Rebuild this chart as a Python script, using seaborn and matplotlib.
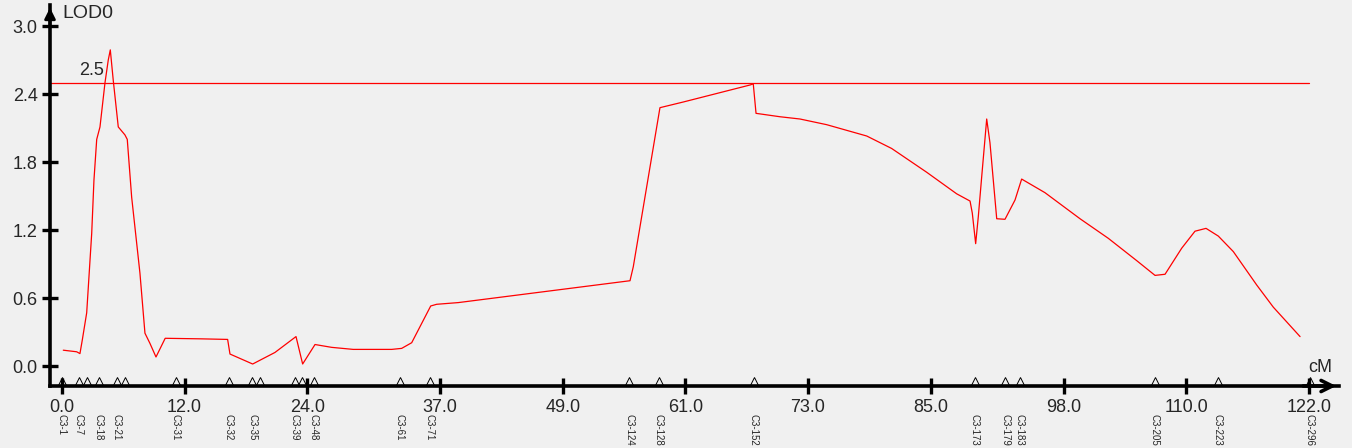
import numpy as np
import pandas as pd
import seaborn as sns
import matplotlib.pyplot as plt
from matplotlib.transforms import blended_transform_factory

# LOD profile (position in cM, LOD score)
pos_cm = [0.13, 1.44, 1.76, 1.99, 2.42, 2.91, 3.13, 3.40, 3.72, 4.21, 4.53, 4.73,
          5.02, 5.51, 6.16, 6.39, 6.82, 7.63, 8.12, 8.61, 9.20, 10.1, 13.67, 16.21,
          16.44, 18.66, 20.84, 22.90, 23.55, 24.76, 26.39, 28.50, 32.26, 33.24, 34.22,
          36.08, 36.66, 38.78, 55.58, 55.90, 58.51, 60.79, 67.32, 67.64, 67.91, 70.25,
          72.21, 74.82, 78.74, 81.18, 84.61, 87.54, 88.85, 89.07, 89.40, 89.66, 89.99,
          90.48, 90.80, 91.46, 92.27, 93.25, 93.90, 96.18, 99.61, 102.38, 105.16,
          106.95, 107.93, 109.56, 110.86, 111.94, 113.14, 114.61, 116.90, 118.52,
          119.83, 121.14]
lod = [0.14, 0.126, 0.11, 0.23, 0.47, 1.17, 1.64, 2.0, 2.11, 2.5, 2.70, 2.79,
       2.52, 2.11, 2.04, 2.0, 1.49, 0.82, 0.29, 0.20, 0.08, 0.245, 0.24, 0.235,
       0.106, 0.018, 0.12, 0.26, 0.018, 0.19, 0.165, 0.147, 0.147, 0.156, 0.206,
       0.53, 0.545, 0.56, 0.753, 0.876, 2.28, 2.33, 2.48, 2.49, 2.23, 2.20,
       2.18, 2.13, 2.03, 1.92, 1.71, 1.52, 1.456, 1.35, 1.08, 1.32, 1.67,
       2.18, 1.97, 1.30, 1.295, 1.465, 1.65, 1.53, 1.30, 1.127, 0.93,
       0.80, 0.81, 1.04, 1.19, 1.215, 1.147, 1.01, 0.715, 0.52,
       0.39, 0.26]

# markers on the linkage map
marker_cm = [0.0, 1.66, 2.45, 3.62, 5.38, 6.16, 11.15, 16.34, 18.6, 19.4, 22.8, 23.5,
             24.66, 33.07, 36.0, 55.5, 58.4, 67.7, 89.3, 92.3, 93.7, 106.9, 113.1, 122.1]
marker_names = ["C3-1", "C3-7", "", "C3-18", "C3-21", "", "C3-31", "C3-32", "C3-35", "",
                "C3-39", "", "C3-48", "C3-61", "C3-71", "C3-124", "C3-128", "C3-152",
                "C3-173", "C3-179", "C3-183", "C3-205", "C3-223", "C3-296"]

x_ticks = [0.0, 12.0, 24.0, 37.0, 49.0, 61.0, 73.0, 85.0, 98.0, 110.0, 122.0]
y_ticks = [0.0, 0.6, 1.2, 1.8, 2.4, 3.0]
threshold = 2.5

sns.set_style("white")
plt.rcParams['font.family'] = ['Liberation Sans', 'DejaVu Sans']

df = pd.DataFrame({"cM": pos_cm, "LOD": lod})

fig = plt.figure(figsize=(13.52, 4.48), dpi=100, facecolor="#f0f0f0")
ax = fig.add_axes([50 / 1352, 62 / 448, 1289 / 1352, 381 / 448])
ax.set_facecolor("#f0f0f0")

sns.lineplot(data=df, x="cM", y="LOD", color="red", lw=0.9, estimator=None, sort=False, ax=ax)

ax.plot([-1.17, 122.0], [threshold, threshold], color="red", lw=0.9)
ax.text(1.66, 2.53, "2.5", fontsize=13, ha="left", va="bottom")

ax.set_xlim(-1.17, 124.95)
ax.set_ylim(-0.176, 3.186)
ax.set_xticks(x_ticks)
ax.set_xticklabels([f"{t:.1f}" for t in x_ticks], fontsize=13)
ax.set_yticks(y_ticks)
ax.set_yticklabels([f"{t:.1f}" for t in y_ticks], fontsize=13)
ax.tick_params(left=True, bottom=True, direction="inout", length=12,
               width=2.4, pad=3, color="black")
ax.set_xlabel("")
ax.set_ylabel("")

for s in ["top", "right"]:
    ax.spines[s].set_visible(False)
for s in ["left", "bottom"]:
    ax.spines[s].set_linewidth(2.6)
    ax.spines[s].set_color("black")

# arrow heads on the axes
ax.annotate("", xy=(1.0, 0.0), xytext=(0.97, 0.0), xycoords="axes fraction",
            arrowprops=dict(arrowstyle="->", lw=2.6, color="black", mutation_scale=20))
ax.annotate("", xy=(0.0, 1.0), xytext=(0.0, 0.94), xycoords="axes fraction",
            arrowprops=dict(arrowstyle="-|>", lw=2.0, color="black", mutation_scale=16))

ax.text(0.0, 3.19, "LOD0", fontsize=14, ha="left", va="top")
ax.text(121.9, -0.09, "cM", fontsize=13, ha="left", va="bottom")

# marker triangles and names
ax.plot(marker_cm, [-0.135] * len(marker_cm), linestyle="none", marker="^",
        markersize=6, markerfacecolor="none", markeredgecolor="black",
        markeredgewidth=0.7, clip_on=False)
trans = blended_transform_factory(ax.transData, ax.transAxes)
for m, name in zip(marker_cm, marker_names):
    if name:
        ax.text(m, -0.074, name, transform=trans, rotation=270, fontsize=7,
                ha="center", va="top")

fig.savefig("out.png", dpi=100, facecolor=fig.get_facecolor())
